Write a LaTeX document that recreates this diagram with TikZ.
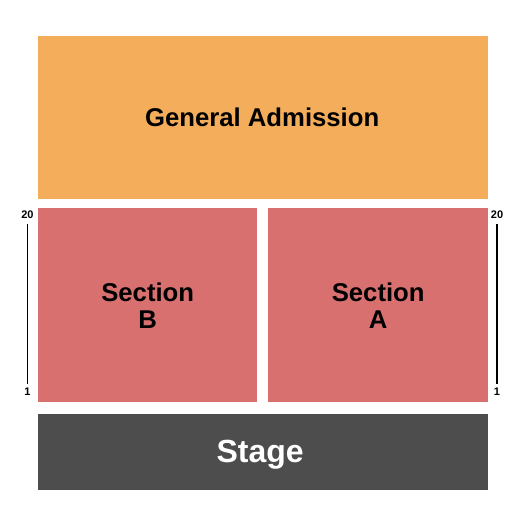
\documentclass[tikz,border=0pt]{standalone}
\usepackage{fontspec}
\setmainfont{Liberation Sans}
\definecolor{gaorange}{RGB}{244,173,91}
\definecolor{secred}{RGB}{216,112,112}
\definecolor{stagegray}{RGB}{77,77,77}
\begin{document}
\begin{tikzpicture}[x=1pt,y=-1pt,
  area/.style={draw=none,inner sep=0pt,anchor=north west},
  lbl/.style={font=\bfseries\fontsize{25.7}{27}\selectfont,align=center,text=black},
  rowlbl/.style={font=\bfseries\fontsize{11}{12}\selectfont,inner sep=0pt},
  rowline/.style={draw=black,line width=1.2pt}]
\useasboundingbox (0,0) rectangle (525,525);
\fill[white] (0,0) rectangle (525,525);
% areas
\node[area,fill=gaorange,minimum width=450pt,minimum height=163pt] (ga) at (38,36) {};
\node[area,fill=secred,minimum width=219pt,minimum height=194pt] (secb) at (38,208) {};
\node[area,fill=secred,minimum width=220pt,minimum height=194pt] (seca) at (268,208) {};
\node[area,fill=stagegray,minimum width=450pt,minimum height=76pt] (stage) at (38,414) {};
% labels
\node[lbl] (galbl) at ([xshift=-1pt]ga.center) {General Admission};
\node[lbl] (seclblb) at (secb.center) {Section\\B};
\node[lbl] (seclbla) at (seca.center) {Section\\A};
\node[lbl,text=white,font=\bfseries\fontsize{32}{36}\selectfont] (stagelbl) at ([xshift=-3pt,yshift=-3pt]stage.center) {Stage};
% row markers
\node[rowlbl] (l20) at (27.5,215) {20};
\node[rowlbl] (l1) at (27.5,392) {1};
\coordinate (lt) at (27.5,224);
\coordinate (lb) at (27.5,384);
\draw[rowline] (lt) -- (lb);
\node[rowlbl] (r20) at (497,215) {20};
\node[rowlbl] (r1) at (497,392) {1};
\coordinate (rt) at (497,224);
\coordinate (rb) at (497,384);
\draw[rowline] (rt) -- (rb);
\end{tikzpicture}
\end{document}
